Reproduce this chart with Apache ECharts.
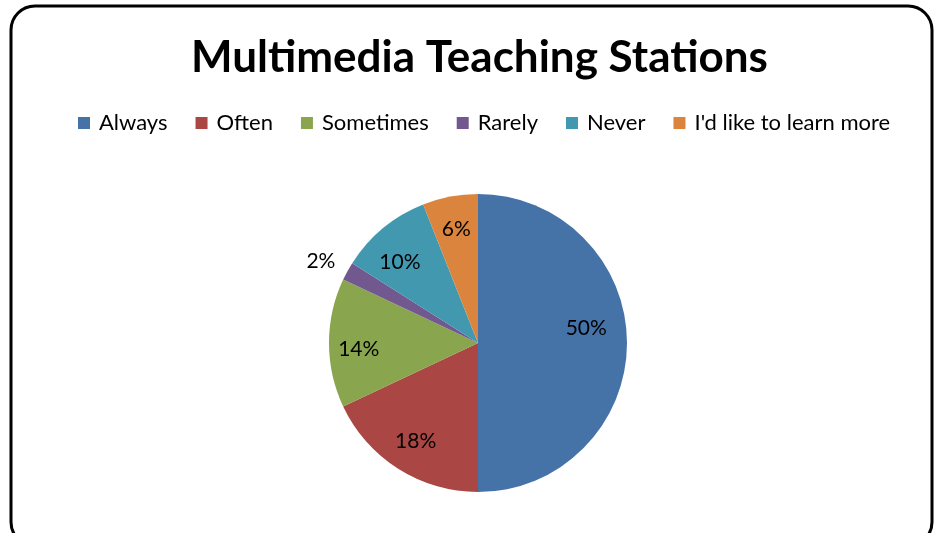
<!DOCTYPE html>
<html>
<head>
<meta charset="utf-8">
<script src="https://cdn.jsdelivr.net/npm/echarts@6/dist/echarts.min.js"></script>
<style>
  html, body { margin: 0; padding: 0; background: #fff; }
  #chart { width: 936px; height: 533px; }
</style>
</head>
<body>
<div id="chart"></div>
<script>
  // survey answers, shares in percent
  var categories = ['Always', 'Often', 'Sometimes', 'Rarely', 'Never', "I'd like to learn more"];
  var shares = [50, 18, 14, 2, 10, 6];
  var colors = ['#4572A7', '#AA4643', '#89A54E', '#71588F', '#4198AF', '#DB843D'];

  var font = 'Lato, "Open Sans", sans-serif';
  var center = [478, 343];
  var R = 149;

  // small nudges so the labels sit where excel put them
  var labelNudge = {
    'Always': [-8, -15],
    'Sometimes': [-3, 6],
    'Never': [-4, 9],
    'Rarely': [0, -6]
  };

  var chart = echarts.init(document.getElementById('chart'), null, {renderer: 'canvas'});

  // main pie, only the small slice gets an outside label
  var pieData = categories.map(function (name, i) {
    var item = {name: name, value: shares[i]};
    if (name === 'Rarely') {
      item.label = {show: true, offset: labelNudge[name]};
    }
    return item;
  });
  // overlay ring just to place the inner labels further out like excel does
  var labelData = categories.map(function (name, i) {
    var item = {name: name, value: shares[i]};
    if (name === 'Rarely') {
      item.label = {show: false};
    } else if (labelNudge[name]) {
      item.label = {offset: labelNudge[name]};
    }
    return item;
  });

  chart.setOption({
    color: colors,
    animation: false,
    title: {
      text: 'Multimedia Teaching Stations',
      left: 186,
      top: 31,
      textStyle: {
        fontFamily: font,
        fontSize: 44,
        fontWeight: 'bold',
        color: '#000'
      }
    },
    legend: {
      data: categories,
      top: 107,
      left: 73,
      icon: 'rect',
      itemWidth: 12,
      itemHeight: 12,
      itemGap: 28,
      textStyle: {
        fontFamily: font,
        fontSize: 22,
        color: '#000',
        padding: [0, 0, 0, 4]
      }
    },
    graphic: [{
      type: 'rect',
      shape: {x: 11, y: 6, width: 921, height: 540, r: 24},
      style: {fill: 'none', stroke: '#000', lineWidth: 3},
      silent: true
    }],
    series: [
      {
        type: 'pie',
        center: center,
        radius: R,
        startAngle: 90,
        clockwise: true,
        data: pieData,
        label: {
          show: false,
          position: 'outside',
          formatter: '{c}%',
          fontFamily: font,
          fontSize: 21,
          color: '#000'
        },
        labelLine: {show: false, length: 8, length2: 0},
        emphasis: {disabled: true}
      },
      {
        type: 'pie',
        center: center,
        radius: [R * 0.52, R],
        startAngle: 90,
        clockwise: true,
        silent: true,
        data: labelData,
        itemStyle: {color: 'rgba(0,0,0,0)'},
        label: {
          show: true,
          position: 'inside',
          formatter: '{c}%',
          fontFamily: font,
          fontSize: 21,
          color: '#000'
        },
        labelLine: {show: false},
        emphasis: {disabled: true}
      }
    ]
  });
</script>
</body>
</html>
